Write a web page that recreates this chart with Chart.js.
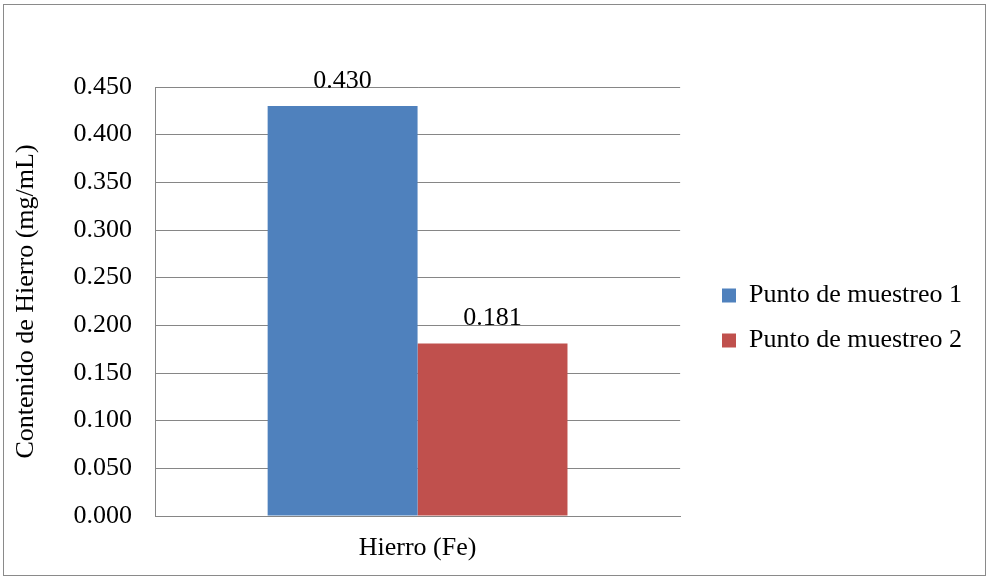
<!DOCTYPE html>
<html>
<head>
<meta charset="utf-8">
<script src="https://cdn.jsdelivr.net/npm/chart.js@4.4.1/dist/chart.umd.min.js"></script>
<style>
  html, body { margin: 0; padding: 0; background: #fff; }
  #marco { position: absolute; left: 3px; top: 4px; width: 981px; height: 570px; border: 1px solid #8a8a8a; }
  #grafico { position: absolute; left: 0; top: 0; }
</style>
</head>
<body>
<div id="marco"></div>
<canvas id="grafico" width="990" height="579"></canvas>
<script>
// Datos
const categorias = ["Hierro (Fe)"];
const seriesNombres = ["Punto de muestreo 1", "Punto de muestreo 2"];
const valoresPunto1 = [0.430];
const valoresPunto2 = [0.181];
const coloresSeries = ["#4F81BD", "#C0504D"];
const ejeY = { min: 0, max: 0.45, paso: 0.05, titulo: "Contenido de Hierro (mg/mL)" };

const fuente = '"Liberation Serif", "Times New Roman", serif';
const tamFuente = 26;
const colorRejilla = '#868686';

// Etiquetas de valor sobre cada barra
const etiquetasValores = {
    id: 'etiquetasValores',
    afterDatasetsDraw(chart) {
        const ctx = chart.ctx;
        ctx.save();
        ctx.font = `${tamFuente}px ${fuente}`;
        ctx.fillStyle = '#000';
        ctx.textAlign = 'center';
        ctx.textBaseline = 'alphabetic';
        chart.data.datasets.forEach((ds, i) => {
            chart.getDatasetMeta(i).data.forEach((bar, j) => {
                ctx.fillText(ds.data[j].toFixed(3), bar.x, bar.y - 18);
            });
        });
        ctx.restore();
    }
};

// Mueve la leyenda a su sitio
const posicionLeyenda = {
    id: 'posicionLeyenda',
    afterLayout(chart) {
        const leg = chart.legend;
        if (!leg) return;
        const dy = -15;
        leg.left = 703;
        leg.right = 990;
        leg.top += dy; leg.bottom += dy;
    }
};

const ctx = document.getElementById('grafico').getContext('2d');
const grafico = new Chart(ctx, {
    type: 'bar',
    data: {
        labels: categorias,
        datasets: [
            { label: seriesNombres[0], data: valoresPunto1, backgroundColor: coloresSeries[0] },
            { label: seriesNombres[1], data: valoresPunto2, backgroundColor: coloresSeries[1] }
        ]
    },
    options: {
        responsive: false,
        animation: false,
        devicePixelRatio: 1,
        layout: { padding: { top: 87, bottom: 0, left: 0, right: 40 } },
        datasets: {
            bar: { categoryPercentage: 0.571, barPercentage: 1.0, borderWidth: 0 }
        },
        plugins: {
            title: { display: false },
            tooltip: { enabled: false },
            legend: {
                position: 'right',
                labels: {
                    font: { family: fuente, size: tamFuente },
                    color: '#000',
                    boxWidth: 14,
                    boxHeight: 14,
                    padding: 19
                }
            }
        },
        scales: {
            x: {
                grid: { display: false, drawTicks: false },
                border: { display: true, color: colorRejilla, width: 1 },
                ticks: { font: { family: fuente, size: tamFuente }, color: '#000', padding: 17 },
                afterFit(scale) { scale.height = 63; }
            },
            y: {
                min: ejeY.min,
                max: ejeY.max,
                grid: { color: colorRejilla, lineWidth: 1, drawTicks: false },
                border: { display: true, color: colorRejilla, width: 1 },
                ticks: {
                    stepSize: ejeY.paso,
                    font: { family: fuente, size: tamFuente },
                    color: '#000',
                    padding: 23,
                    callback: v => v.toFixed(3)
                },
                title: {
                    display: true,
                    text: ejeY.titulo,
                    font: { family: fuente, size: tamFuente },
                    color: '#000',
                    padding: { top: 11, bottom: 0 }
                },
                afterFit(scale) { scale.width = 155; }
            }
        }
    },
    plugins: [etiquetasValores, posicionLeyenda]
});

// Ajuste del borde derecho del área de trazado
for (let i = 0; i < 4; i++) {
    const dif = grafico.chartArea.right - 680;
    if (Math.abs(dif) < 0.5) break;
    grafico.options.layout.padding.right += dif;
    grafico.update('none');
}
</script>
</body>
</html>
